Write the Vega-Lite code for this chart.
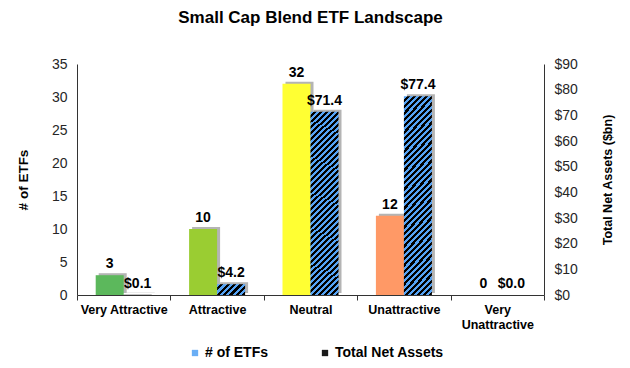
{
"$schema":"https://vega.github.io/schema/vega-lite/v6.json",
"width":467,"height":231,
"autosize":{"type":"none"},
"padding":{"left":77,"top":64,"right":86,"bottom":73},
"background":"#ffffff",
"config":{"view":{"stroke":null},"font":"Liberation Sans"},
"title":{"text":"Small Cap Blend ETF Landscape","font":"Liberation Sans","fontSize":17,"fontWeight":"bold","color":"#000","anchor":"middle","frame":"group","baseline":"alphabetic","offset":17},
"data":{"values":[
{"cat":"Very Attractive","series":"# of ETFs","value":3},
{"cat":"Very Attractive","series":"Total Net Assets","value":0.1},
{"cat":"Attractive","series":"# of ETFs","value":10},
{"cat":"Attractive","series":"Total Net Assets","value":4.2},
{"cat":"Neutral","series":"# of ETFs","value":32},
{"cat":"Neutral","series":"Total Net Assets","value":71.4},
{"cat":"Unattractive","series":"# of ETFs","value":12},
{"cat":"Unattractive","series":"Total Net Assets","value":77.4},
{"cat":"Very Unattractive","series":"# of ETFs","value":0},
{"cat":"Very Unattractive","series":"Total Net Assets","value":0.0}
]},
"encoding":{"x":{"field":"cat","type":"nominal","scale":{"domain":["Very Attractive","Attractive","Neutral","Unattractive","Very Unattractive"],"paddingInner":0,"paddingOuter":0},
 "axis":{"title":null,"labelAngle":0,"labelFont":"Liberation Sans","labelFontSize":12.5,"labelFontWeight":"bold","labelColor":"#000","labelPadding":3,"tickBand":"extent","tickSize":5,"tickColor":"#333","domainColor":"#333","labelLineHeight":15,"zindex":1,
 "labelExpr":"datum.value === 'Very Unattractive' ? ['Very', 'Unattractive'] : datum.value"}}},
"layer":[
{"transform":[{"filter":"datum.series === '# of ETFs'"}],
 "encoding":{"y":{"field":"value","type":"quantitative","scale":{"domain":[0,35]},
  "axis":{"title":"# of ETFs","titleFont":"Liberation Sans","titleFontSize":13.5,"titleFontWeight":"bold","titleColor":"#000","titlePadding":21,"labelFont":"Liberation Sans","labelFontSize":14,"labelColor":"#262626","labelPadding":10,"ticks":false,"domainColor":"#333","grid":false,"values":[0,5,10,15,20,25,30,35]}}},
 "layer":[
  {"mark":{"type":"bar","width":28,"xOffset":-11,"yOffset":-2,"y2Offset":-2,"fill":"#b4b4b4"}},
  {"mark":{"type":"bar","width":28,"xOffset":-14},
   "encoding":{"fill":{"field":"series","type":"nominal","scale":{"domain":["# of ETFs","Total Net Assets"],"range":["#6aaef5","#1a1a1a"]},
    "legend":{"title":null,"orient":"none","legendX":111,"legendY":282,"direction":"horizontal","symbolType":"square","symbolSize":40,"symbolStrokeWidth":0,"labelFont":"Liberation Sans","labelFontSize":14,"labelFontWeight":"bold","labelColor":"#000","columnPadding":49,"labelOffset":3},
    "condition":[{"test":"datum.cat === 'Very Attractive'","value":"#5cb85c"},{"test":"datum.cat === 'Attractive'","value":"#9acd32"},{"test":"datum.cat === 'Neutral'","value":"#ffff33"},{"test":"datum.cat === 'Unattractive'","value":"#ff9966"},{"test":"datum.cat === 'Very Unattractive'","value":"#e03c31"}]}}},
  {"mark":{"type":"text","xOffset":-14,"dy":-7,"baseline":"alphabetic","font":"Liberation Sans","fontSize":14,"fontWeight":"bold","color":"#000"},
   "encoding":{"text":{"field":"value","type":"quantitative","format":"d"}}}
 ]},
{"transform":[{"filter":"datum.series === 'Total Net Assets'"}],
 "encoding":{"y":{"field":"value","type":"quantitative","scale":{"domain":[0,90]},
  "axis":{"orient":"right","title":"Total Net Assets ($bn)","titleAngle":270,"titleFont":"Liberation Sans","titleFontSize":12.5,"titleFontWeight":"bold","titleColor":"#000","titlePadding":37,"labelFont":"Liberation Sans","labelFontSize":14,"labelColor":"#262626","labelPadding":10,"ticks":false,"domainColor":"#333","grid":false,"format":"$d","values":[0,10,20,30,40,50,60,70,80,90]}}},
 "layer":[
  {"mark":{"type":"bar","width":28,"xOffset":17,"yOffset":-2,"y2Offset":-2,"fill":"#b4b4b4"}},
  {"mark":{"type":"bar","width":28,"xOffset":14},
   "encoding":{"fill":{"field":"series","type":"nominal",
    "condition":[
     {"test":"datum.cat === 'Attractive'","value":{"gradient":"linear","x1":0,"y1":0,"x2":1.2062,"y2":0.464,"stops":[{"offset":0,"color":"#55a3f5"},
{"offset":0.0833,"color":"#55a3f5"},{"offset":0.0833,"color":"#000"},
{"offset":0.1667,"color":"#000"},{"offset":0.1667,"color":"#55a3f5"},
{"offset":0.25,"color":"#55a3f5"},{"offset":0.25,"color":"#000"},
{"offset":0.3333,"color":"#000"},{"offset":0.3333,"color":"#55a3f5"},
{"offset":0.4167,"color":"#55a3f5"},{"offset":0.4167,"color":"#000"},
{"offset":0.5,"color":"#000"},{"offset":0.5,"color":"#55a3f5"},
{"offset":0.5833,"color":"#55a3f5"},{"offset":0.5833,"color":"#000"},
{"offset":0.6667,"color":"#000"},{"offset":0.6667,"color":"#55a3f5"},
{"offset":0.75,"color":"#55a3f5"},{"offset":0.75,"color":"#000"},
{"offset":0.8333,"color":"#000"},{"offset":0.8333,"color":"#55a3f5"},
{"offset":0.9167,"color":"#55a3f5"},{"offset":0.9167,"color":"#000"},
{"offset":1,"color":"#000"}]}},
     {"test":"datum.value > 50","value":{"gradient":"linear","x1":0,"y1":0,"x2":0.1647,"y2":1.1226,"stops":[
{"offset":0,"color":"#55a3f5"},
{"offset":0.0139,"color":"#55a3f5"},{"offset":0.0139,"color":"#000"},
{"offset":0.0278,"color":"#000"},{"offset":0.0278,"color":"#55a3f5"},
{"offset":0.0417,"color":"#55a3f5"},{"offset":0.0417,"color":"#000"},
{"offset":0.0556,"color":"#000"},{"offset":0.0556,"color":"#55a3f5"},
{"offset":0.0694,"color":"#55a3f5"},{"offset":0.0694,"color":"#000"},
{"offset":0.0833,"color":"#000"},{"offset":0.0833,"color":"#55a3f5"},
{"offset":0.0972,"color":"#55a3f5"},{"offset":0.0972,"color":"#000"},
{"offset":0.1111,"color":"#000"},{"offset":0.1111,"color":"#55a3f5"},
{"offset":0.125,"color":"#55a3f5"},{"offset":0.125,"color":"#000"},
{"offset":0.1389,"color":"#000"},{"offset":0.1389,"color":"#55a3f5"},
{"offset":0.1528,"color":"#55a3f5"},{"offset":0.1528,"color":"#000"},
{"offset":0.1667,"color":"#000"},{"offset":0.1667,"color":"#55a3f5"},
{"offset":0.1806,"color":"#55a3f5"},{"offset":0.1806,"color":"#000"},
{"offset":0.1944,"color":"#000"},{"offset":0.1944,"color":"#55a3f5"},
{"offset":0.2083,"color":"#55a3f5"},{"offset":0.2083,"color":"#000"},
{"offset":0.2222,"color":"#000"},{"offset":0.2222,"color":"#55a3f5"},
{"offset":0.2361,"color":"#55a3f5"},{"offset":0.2361,"color":"#000"},
{"offset":0.25,"color":"#000"},{"offset":0.25,"color":"#55a3f5"},
{"offset":0.2639,"color":"#55a3f5"},{"offset":0.2639,"color":"#000"},
{"offset":0.2778,"color":"#000"},{"offset":0.2778,"color":"#55a3f5"},
{"offset":0.2917,"color":"#55a3f5"},{"offset":0.2917,"color":"#000"},
{"offset":0.3056,"color":"#000"},{"offset":0.3056,"color":"#55a3f5"},
{"offset":0.3194,"color":"#55a3f5"},{"offset":0.3194,"color":"#000"},
{"offset":0.3333,"color":"#000"},{"offset":0.3333,"color":"#55a3f5"},
{"offset":0.3472,"color":"#55a3f5"},{"offset":0.3472,"color":"#000"},
{"offset":0.3611,"color":"#000"},{"offset":0.3611,"color":"#55a3f5"},
{"offset":0.375,"color":"#55a3f5"},{"offset":0.375,"color":"#000"},
{"offset":0.3889,"color":"#000"},{"offset":0.3889,"color":"#55a3f5"},
{"offset":0.4028,"color":"#55a3f5"},{"offset":0.4028,"color":"#000"},
{"offset":0.4167,"color":"#000"},{"offset":0.4167,"color":"#55a3f5"},
{"offset":0.4306,"color":"#55a3f5"},{"offset":0.4306,"color":"#000"},
{"offset":0.4444,"color":"#000"},{"offset":0.4444,"color":"#55a3f5"},
{"offset":0.4583,"color":"#55a3f5"},{"offset":0.4583,"color":"#000"},
{"offset":0.4722,"color":"#000"},{"offset":0.4722,"color":"#55a3f5"},
{"offset":0.4861,"color":"#55a3f5"},{"offset":0.4861,"color":"#000"},
{"offset":0.5,"color":"#000"},{"offset":0.5,"color":"#55a3f5"},
{"offset":0.5139,"color":"#55a3f5"},{"offset":0.5139,"color":"#000"},
{"offset":0.5278,"color":"#000"},{"offset":0.5278,"color":"#55a3f5"},
{"offset":0.5417,"color":"#55a3f5"},{"offset":0.5417,"color":"#000"},
{"offset":0.5556,"color":"#000"},{"offset":0.5556,"color":"#55a3f5"},
{"offset":0.5694,"color":"#55a3f5"},{"offset":0.5694,"color":"#000"},
{"offset":0.5833,"color":"#000"},{"offset":0.5833,"color":"#55a3f5"},
{"offset":0.5972,"color":"#55a3f5"},{"offset":0.5972,"color":"#000"},
{"offset":0.6111,"color":"#000"},{"offset":0.6111,"color":"#55a3f5"},
{"offset":0.625,"color":"#55a3f5"},{"offset":0.625,"color":"#000"},
{"offset":0.6389,"color":"#000"},{"offset":0.6389,"color":"#55a3f5"},
{"offset":0.6528,"color":"#55a3f5"},{"offset":0.6528,"color":"#000"},
{"offset":0.6667,"color":"#000"},{"offset":0.6667,"color":"#55a3f5"},
{"offset":0.6806,"color":"#55a3f5"},{"offset":0.6806,"color":"#000"},
{"offset":0.6944,"color":"#000"},{"offset":0.6944,"color":"#55a3f5"},
{"offset":0.7083,"color":"#55a3f5"},{"offset":0.7083,"color":"#000"},
{"offset":0.7222,"color":"#000"},{"offset":0.7222,"color":"#55a3f5"},
{"offset":0.7361,"color":"#55a3f5"},{"offset":0.7361,"color":"#000"},
{"offset":0.75,"color":"#000"},{"offset":0.75,"color":"#55a3f5"},
{"offset":0.7639,"color":"#55a3f5"},{"offset":0.7639,"color":"#000"},
{"offset":0.7778,"color":"#000"},{"offset":0.7778,"color":"#55a3f5"},
{"offset":0.7917,"color":"#55a3f5"},{"offset":0.7917,"color":"#000"},
{"offset":0.8056,"color":"#000"},{"offset":0.8056,"color":"#55a3f5"},
{"offset":0.8194,"color":"#55a3f5"},{"offset":0.8194,"color":"#000"},
{"offset":0.8333,"color":"#000"},{"offset":0.8333,"color":"#55a3f5"},
{"offset":0.8472,"color":"#55a3f5"},{"offset":0.8472,"color":"#000"},
{"offset":0.8611,"color":"#000"},{"offset":0.8611,"color":"#55a3f5"},
{"offset":0.875,"color":"#55a3f5"},{"offset":0.875,"color":"#000"},
{"offset":0.8889,"color":"#000"},{"offset":0.8889,"color":"#55a3f5"},
{"offset":0.9028,"color":"#55a3f5"},{"offset":0.9028,"color":"#000"},
{"offset":0.9167,"color":"#000"},{"offset":0.9167,"color":"#55a3f5"},
{"offset":0.9306,"color":"#55a3f5"},{"offset":0.9306,"color":"#000"},
{"offset":0.9444,"color":"#000"},{"offset":0.9444,"color":"#55a3f5"},
{"offset":0.9583,"color":"#55a3f5"},{"offset":0.9583,"color":"#000"},
{"offset":0.9722,"color":"#000"},{"offset":0.9722,"color":"#55a3f5"},
{"offset":0.9861,"color":"#55a3f5"},{"offset":0.9861,"color":"#000"},
{"offset":1,"color":"#000"}]}}
    ]}}},
  {"mark":{"type":"text","xOffset":14,"dy":-7,"baseline":"alphabetic","font":"Liberation Sans","fontSize":14,"fontWeight":"bold","color":"#000"},
   "encoding":{"text":{"field":"value","type":"quantitative","format":"$.1f"}}}
 ]}
],
"resolve":{"scale":{"y":"independent"}}
}
